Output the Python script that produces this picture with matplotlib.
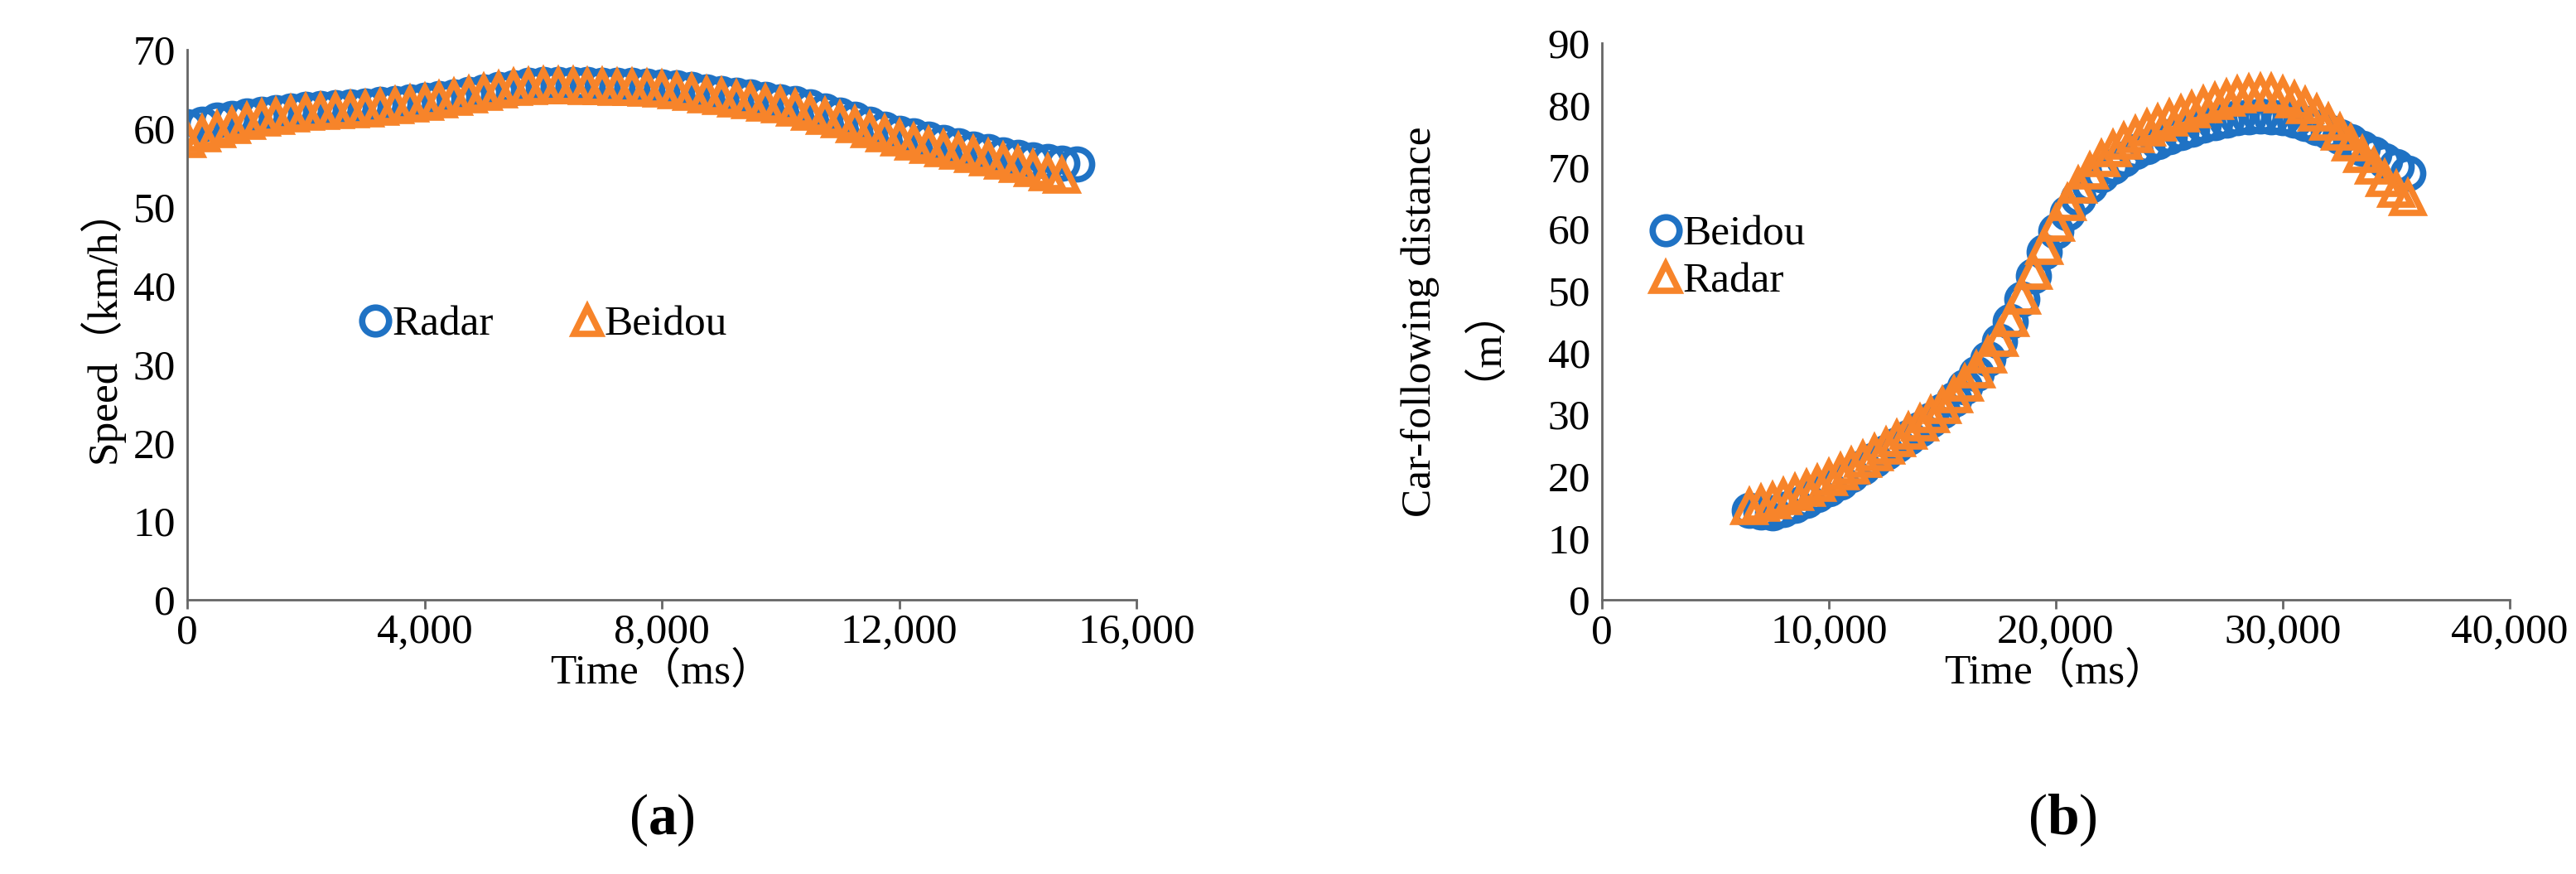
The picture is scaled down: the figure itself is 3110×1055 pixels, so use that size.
import numpy as np
import matplotlib
matplotlib.use("Agg")
import matplotlib.pyplot as plt

plt.rcParams['font.family'] = ['Liberation Serif', 'Noto Sans CJK SC', 'DejaVu Sans']
plt.rcParams['mathtext.fontset'] = 'custom'
plt.rcParams['mathtext.rm'] = 'Liberation Serif'
plt.rcParams['mathtext.bf'] = 'Liberation Serif:bold'

# Panel (a): speed
time_a_radar = list(range(0, 15001, 250))
speed_radar = [60.2,60.5,61.0,61.3,61.6,61.8,62.0,62.2,62.4,62.5,62.6,62.7,62.8,63.0,63.2,63.4,
               63.6,63.8,64.0,64.3,64.6,64.9,65.2,65.5,65.6,65.6,65.6,65.6,65.5,65.5,65.5,65.4,
               65.3,65.1,64.9,64.6,64.4,64.2,64.0,63.7,63.4,63.1,62.7,62.2,61.7,61.1,60.5,59.9,
               59.4,59.0,58.6,58.2,57.8,57.4,57.0,56.6,56.3,56.0,55.8,55.6,55.5]
time_a_beidou = list(range(0, 14751, 250))
speed_beidou = [58.5,59.2,59.8,60.3,60.8,61.2,61.5,61.8,62.0,62.1,62.2,62.3,62.4,62.6,62.8,63.0,
                63.3,63.6,63.9,64.2,64.5,64.8,65.1,65.3,65.4,65.4,65.4,65.3,65.3,65.2,65.1,65.0,
                64.9,64.7,64.5,64.2,64.0,63.7,63.5,63.2,62.9,62.5,62.0,61.5,61.0,60.4,59.8,59.2,
                58.7,58.2,57.8,57.4,57.0,56.6,56.2,55.8,55.3,54.8,54.3,54.0]

# Panel (b): car-following distance
time_b = list(range(6500, 35501, 500))
dist_beidou = [14.5,14.2,14.0,14.6,15.3,16.1,17.0,18.0,19.0,20.2,21.4,22.6,23.8,25.0,26.3,27.6,
               29.0,30.6,32.4,34.4,36.6,39.0,41.8,45.0,48.6,52.4,56.2,59.6,62.6,65.0,67.0,68.7,
               70.1,71.3,72.4,73.3,74.1,74.8,75.5,76.1,76.7,77.2,77.6,77.9,78.1,78.2,78.1,77.9,
               77.5,77.0,76.4,75.7,74.9,74.0,73.0,72.0,71.0,70.0,69.0]
dist_radar = [15.0,15.5,16.0,16.6,17.3,18.0,18.8,19.7,20.6,21.6,22.6,23.7,24.8,26.0,27.2,28.5,
              29.9,31.4,33.1,35.0,37.1,39.5,42.2,45.4,49.0,53.0,57.0,60.8,64.2,67.0,69.3,71.2,
              72.8,74.1,75.2,76.2,77.0,77.8,78.5,79.2,79.9,80.5,81.0,81.5,81.8,82.0,81.9,81.5,
              80.8,79.8,78.6,77.2,75.6,73.8,71.9,70.0,68.0,66.3,65.0]

blue = '#1f72c4'
orange = '#f7842a'
fs = 37

fig = plt.figure(figsize=(31.1, 10.55), dpi=100)
axa = fig.add_axes([226/3110, 1-724/1055, (1372-226)/3110, (724-60)/1055])
axb = fig.add_axes([1934/3110, 1-724/1055, (3030-1934)/3110, (724-52)/1055])

mk = dict(linestyle='none', markersize=26, markeredgewidth=5.5, markerfacecolor='none')
axa.plot(time_a_radar, speed_radar, marker='o', color=blue, label='Radar', **mk)
axa.plot(time_a_beidou, speed_beidou, marker='^', color=orange, label='Beidou', **mk)
axb.plot(time_b, dist_beidou, marker='o', color=blue, label='Beidou', **mk)
axb.plot(time_b, dist_radar, marker='^', color=orange, label='Radar', **mk)

axa.set_xlim(0, 16000); axa.set_ylim(0, 70)
axa.set_xticks(range(0, 16001, 4000)); axa.set_yticks(range(0, 71, 10))
axa.set_xticklabels([f'{v:,}' for v in range(0, 16001, 4000)])
axb.set_xlim(0, 40000); axb.set_ylim(0, 90)
axb.set_xticks(range(0, 40001, 10000)); axb.set_yticks(range(0, 91, 10))
axb.set_xticklabels([f'{v:,}' for v in range(0, 40001, 10000)])

for ax in (axa, axb):
    ax.spines['top'].set_visible(False)
    ax.spines['right'].set_visible(False)
    ax.spines['left'].set_color('#666666'); ax.spines['bottom'].set_color('#666666')
    ax.spines['left'].set_linewidth(2); ax.spines['bottom'].set_linewidth(2)
    ax.tick_params(labelsize=fs, length=8, width=2, color='#666666', direction='out', pad=4)
    ax.tick_params(axis='y', length=0, pad=10)

axa.set_xlabel('Time（ms）', fontsize=fs, labelpad=0)
axa.set_ylabel('Speed（km/h）', fontsize=fs, labelpad=8)
axb.set_xlabel('Time（ms）', fontsize=fs, labelpad=0)
axb.text(-0.2, 0.5, 'Car-following distance', transform=axb.transAxes, rotation=90,
         fontsize=fs, ha='center', va='center')
axb.text(-0.155, 0.5, '（m）', transform=axb.transAxes, rotation=90,
         fontsize=fs, ha='center', va='center')

axa.legend(loc='center', bbox_to_anchor=(0.37, 0.5), ncol=2, frameon=False, fontsize=fs,
           handletextpad=-0.2, columnspacing=1.6, markerscale=0.9, handlelength=1.2)
axb.legend(loc='upper left', bbox_to_anchor=(0.0, 0.76), frameon=False, fontsize=fs,
           handletextpad=-0.2, labelspacing=0.2, markerscale=0.9, handlelength=1.2)

fig.text(799/3110, 1-990/1055, r'($\mathbf{a}$)', fontsize=50, ha='center', va='center')
fig.text(2490/3110, 1-990/1055, r'($\mathbf{b}$)', fontsize=50, ha='center', va='center')

fig.savefig('out.png', dpi=100)
